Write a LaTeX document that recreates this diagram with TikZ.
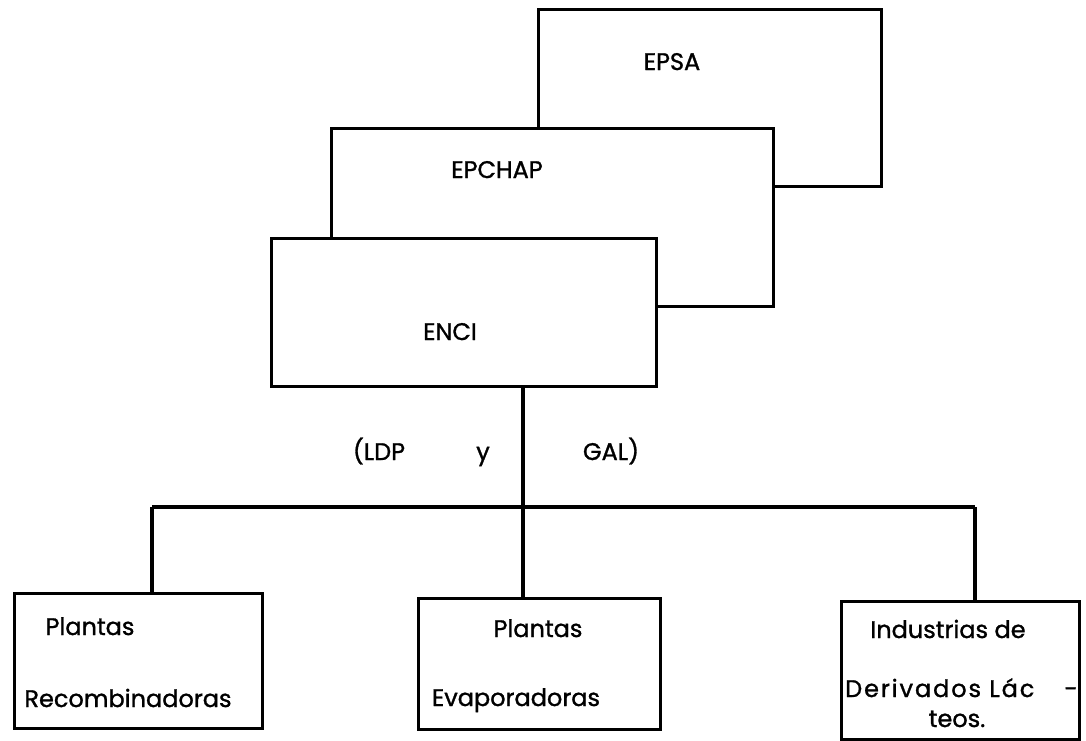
\documentclass[tikz,border=0pt]{standalone}
\usepackage{fontspec}
\setmainfont{Poppins}[FakeBold=1.2]
\begin{document}
\begin{tikzpicture}[x=1pt,y=-1pt,
  box/.style={draw=black, fill=white, line width=3.4pt, inner sep=0pt, anchor=north west},
  lbl/.style={anchor=base, inner sep=0pt, font=\fontsize{24}{28}\selectfont},
  wire/.style={draw=black, line width=3.2pt}]
\useasboundingbox (0,0) rectangle (1086,740);
% top boxes, back to front
\node[box, minimum width=343pt, minimum height=177pt] (epsa) at (537,8) {};
\node[box, minimum width=442pt, minimum height=178pt] (epchap) at (330,127) {};
\node[box, minimum width=385pt, minimum height=148pt] (enci) at (270,237) {};
\node[lbl] (tepsa) at (672,70) {EPSA};
\node[lbl] (tepchap) at (497,178) {EPCHAP};
\node[lbl] (tenci) at (450,340) {ENCI};
% labels on trunk
\node[lbl] (tldp) at (379,460) {(LDP};
\node[lbl] (ty) at (483,460) {y};
\node[lbl] (tgal) at (611,460) {GAL)};
% bottom boxes
\node[box, minimum width=248pt, minimum height=135pt] (left) at (13,592) {};
\node[box, minimum width=242pt, minimum height=131pt] (mid) at (417,597) {};
\node[box, minimum width=238pt, minimum height=138pt] (right) at (840,600) {};
\node[lbl] (l1) at (90,635) {Plantas};
\node[lbl] (l2) at (128,707) {Recombinadoras};
\node[lbl] (m1) at (538,637) {Plantas};
\node[lbl] (m2) at (516,706) {Evaporadoras};
\node[lbl] (r1) at (948,638) {Industrias de};
\node[lbl, anchor=base west] (r2) at (845,697) {\addfontfeature{LetterSpace=8}Derivados Lác};
\node[lbl] (r2d) at (1071,697) {-};
\node[lbl] (r3) at (957,727) {teos.};
% connectors
\coordinate (trunk) at (523,507);
\coordinate (hl) at (152,507);
\coordinate (hr) at (975,507);
\draw[wire] (enci.south -| trunk) -- (mid.north -| trunk);
\draw[wire] (hl) -- (hr);
\draw[wire] (hl) -- (left.north -| hl);
\draw[wire] (hr) -- (right.north -| hr);
\end{tikzpicture}
\end{document}
